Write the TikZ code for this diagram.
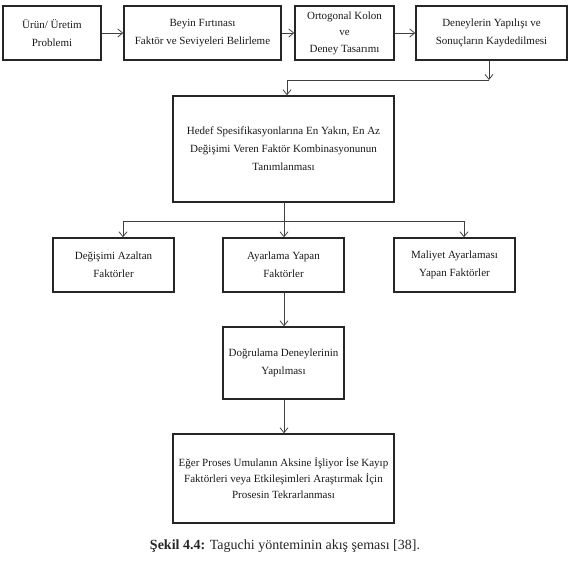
\documentclass[tikz,border=0pt]{standalone}
\usepackage{fontspec}
\setmainfont{Liberation Serif}
\usetikzlibrary{arrows.meta}
\begin{document}
\begin{tikzpicture}[x=1pt,y=-1pt,
  flowbox/.style={draw=black!85, line width=1.3pt, rectangle, align=center, inner sep=2pt,
    font=\fontsize{11}{18}\selectfont, text=black!90},
  conn/.style={draw=black!75, line width=0.8pt},
  arr/.style={conn, -{Straight Barb[length=5pt,width=8pt,line width=0.8pt]}}]
\useasboundingbox (0,0) rectangle (571,575);
\node[flowbox, minimum width=98pt, minimum height=54pt] (b1) at (52,33) {Ürün/ Üretim\\Problemi};
\node[flowbox, minimum width=157pt, minimum height=54pt] (b2) at (202.5,33) {Beyin Fırtınası\\Faktör ve Seviyeleri Belirleme};
\node[flowbox, minimum width=99pt, minimum height=54pt, font=\fontsize{11}{16.5}\selectfont] (b3) at (344.5,33) {Ortogonal Kolon\\ve\\Deney Tasarımı};
\node[flowbox, minimum width=151pt, minimum height=54pt] (b4) at (491.5,33) {Deneylerin Yapılışı ve\\Sonuçların Kaydedilmesi};
\node[flowbox, minimum width=221pt, minimum height=106pt] (b5) at (283.5,149) {Hedef Spesifikasyonlarına En Yakın, En Az\\Değişimi Veren Faktör Kombinasyonunun\\Tanımlanması};
\node[flowbox, minimum width=121pt, minimum height=54pt] (b6) at (113.5,265) {Değişimi Azaltan\\Faktörler};
\node[flowbox, minimum width=121pt, minimum height=54pt] (b7) at (283.5,265) {Ayarlama Yapan\\Faktörler};
\node[flowbox, minimum width=121pt, minimum height=54pt] (b8) at (454.5,265) {Maliyet Ayarlaması\\Yapan Faktörler};
\node[flowbox, minimum width=121pt, minimum height=72pt] (b9) at (283.5,363) {Doğrulama Deneylerinin\\Yapılması};
\node[flowbox, minimum width=221pt, minimum height=89pt, font=\fontsize{11}{16}\selectfont] (b10) at (283.5,478.5) {Eğer Proses Umulanın Aksine İşliyor İse Kayıp\\Faktörleri veya Etkileşimleri Araştırmak İçin\\Prosesin Tekrarlanması};
\node[font=\fontsize{14}{16}\selectfont, text=black!85] (cap) at (285,546) {\textbf{Şekil 4.4:} Taguchi yönteminin akış şeması [38].};
% top row
\draw[arr] (b1) -- (b2);
\draw[arr] (b2) -- (b3);
\draw[arr] (b3) -- (b4);
% to b5
\coordinate (j1) at (489,80);
\coordinate (j1b) at (287,80);
\draw[arr] (b4.south -| j1) -- (j1);
\draw[arr] (j1) -- (j1b) -- (b5.north -| j1b);
% fan out
\coordinate (j2) at (284,221);
\coordinate (jl) at (123,221);
\coordinate (jr) at (464,221);
\draw[conn] (b5.south -| j2) -- (j2);
\draw[conn] (jl) -- (jr);
\draw[arr] (jl) -- (b6.north -| jl);
\draw[arr] (j2) -- (b7.north -| j2);
\draw[arr] (jr) -- (b8.north -| jr);
% down
\draw[arr] (b7.south -| j2) -- (b9.north -| j2);
\draw[arr] (b9.south -| j2) -- (b10.north -| j2);
\end{tikzpicture}
\end{document}
